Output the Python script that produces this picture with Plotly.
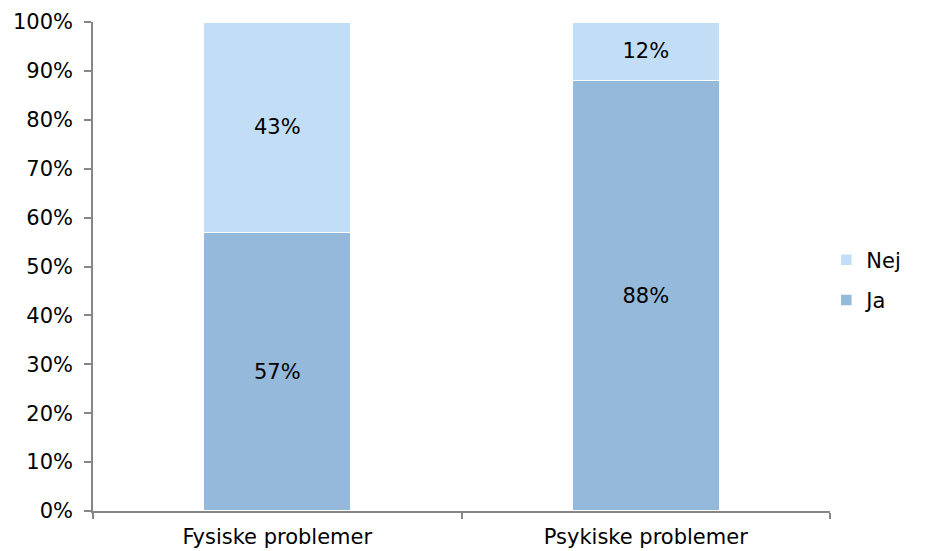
import plotly.graph_objects as go

categories = ["Fysiske problemer", "Psykiske problemer"]
ja_values = [57, 88]
nej_values = [43, 12]
y_tick_values = [0, 10, 20, 30, 40, 50, 60, 70, 80, 90, 100]
y_tick_labels = [f"{v}%" for v in y_tick_values]

font_family = "Verdana, DejaVu Sans, sans-serif"
font_size = 21
axis_color = "#868686"

fig = go.Figure()
fig.add_trace(go.Bar(
    name="Ja", x=categories, y=ja_values,
    text=[f"{v}%" for v in ja_values],
    textposition="inside", insidetextanchor="middle",
    textfont=dict(color="black", size=font_size, family=font_family),
    marker=dict(color="#95B9DA", line=dict(color="white", width=1.5)),
    legend="legend2", width=0.4,
))
fig.add_trace(go.Bar(
    name="Nej", x=categories, y=nej_values,
    text=[f"{v}%" for v in nej_values],
    textposition="inside", insidetextanchor="middle",
    textfont=dict(color="black", size=font_size, family=font_family),
    marker=dict(color="#C2DEF6", line=dict(color="white", width=1.5)),
    legend="legend", width=0.4,
))

legend_common = dict(
    x=0.995, xanchor="left", yanchor="middle",
    font=dict(size=font_size, family=font_family),
    itemwidth=30, bgcolor="rgba(0,0,0,0)",
)

fig.update_layout(
    barmode="stack",
    width=918, height=543,
    margin=dict(l=85, r=96, t=14, b=40, autoexpand=False),
    paper_bgcolor="white", plot_bgcolor="white",
    font=dict(family=font_family, size=font_size, color="black"),
    uniformtext=dict(mode="show", minsize=font_size),
    legend=dict(y=0.513, **legend_common),
    legend2=dict(y=0.431, **legend_common),
    showlegend=True,
)
fig.update_yaxes(
    range=[0, 100], tickvals=y_tick_values, ticktext=y_tick_labels,
    showgrid=False, zeroline=False, automargin=False,
    showline=True, linecolor=axis_color, linewidth=1.5,
    ticks="outside", ticklen=7, tickcolor=axis_color, tickwidth=1.5,
    ticklabelstandoff=7,
)
fig.update_xaxes(
    showgrid=False, zeroline=False, automargin=False,
    showline=True, linecolor=axis_color, linewidth=1.5,
    ticks="outside", ticklen=6, tickcolor=axis_color, tickwidth=1.5,
    tickson="boundaries", ticklabelstandoff=6,
)

fig.write_html("out.html")
